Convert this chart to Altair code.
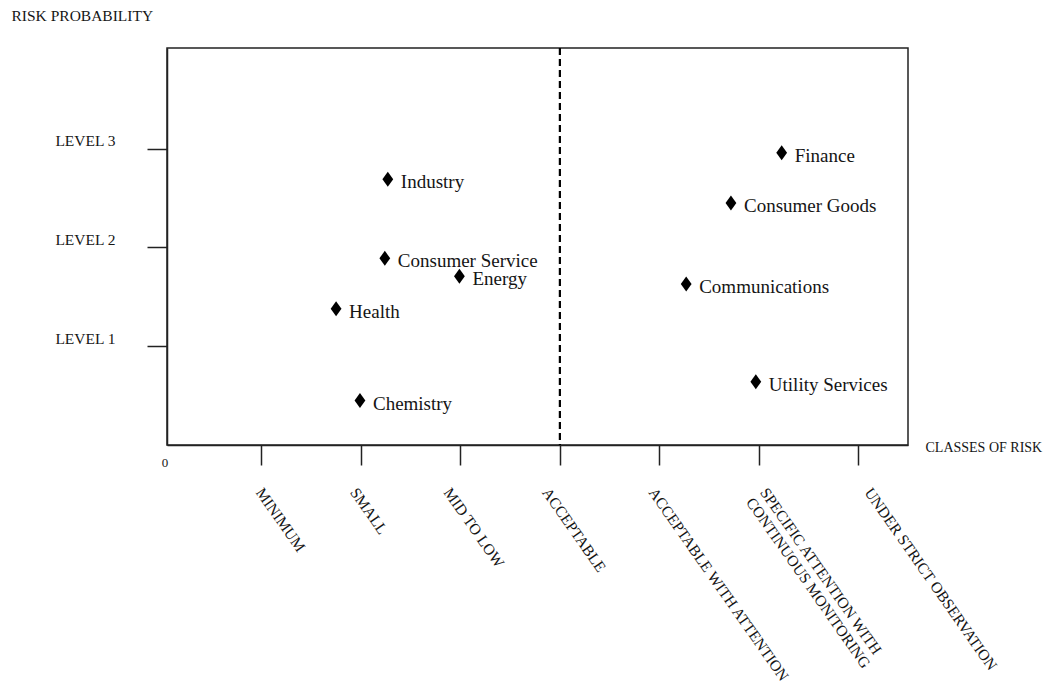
import json
import altair as alt
import pandas as pd

# ---- data ----
sectors = ["Industry", "Consumer Service", "Energy", "Health", "Chemistry",
           "Finance", "Consumer Goods", "Communications", "Utility Services"]
risk_class = [2.27, 2.24, 2.99, 1.75, 1.99, 6.23, 5.72, 5.27, 5.97]
probability = [2.69, 1.89, 1.71, 1.38, 0.45, 2.96, 2.45, 1.63, 0.64]

class_ticks = [1, 2, 3, 4, 5, 6, 7]
class_labels = ["MINIMUM", "SMALL", "MID TO LOW", "ACCEPTABLE",
                "ACCEPTABLE WITH ATTENTION",
                ["SPECIFIC ATTENTION WITH", "CONTINUOUS MONITORING"],
                "UNDER STRICT OBSERVATION"]
# hand-placed label shifts seen in the reference (pixels along the axis)
class_label_shift = [3, -2, -8, -9, -2, 10, 15]
level_ticks = [1, 2, 3]
level_labels = ["LEVEL 1", "LEVEL 2", "LEVEL 3"]
acceptable_threshold = [4]
origin_label = ["0"]

FONT = "Liberation Serif"
INK = "#222222"
TXT = "#151515"

df = pd.DataFrame({"sector": sectors, "risk_class": risk_class, "probability": probability})
rule_df = pd.DataFrame({"risk_class": acceptable_threshold})
zero_df = pd.DataFrame({"risk_class": [0], "probability": [0], "t": origin_label})

x_scale = alt.Scale(domain=[0.05, 7.5], nice=False, zero=False)
y_scale = alt.Scale(domain=[0, 4.02], nice=False, zero=False)

offset_condition = {
    "condition": [
        {"test": f"datum.value == {t}", "value": s}
        for t, s in zip(class_ticks, class_label_shift)
    ],
    "value": 0,
}

x_axis = alt.Axis(
    values=class_ticks,
    labelExpr=json.dumps(class_labels) + "[datum.value - 1]",
    labelAngle=55, labelAlign="left", labelBaseline="top",
    labelPadding=20, labelOffset=offset_condition,
    labelFont=FONT, labelFontSize=15.5,
    labelColor=TXT, labelLineHeight=17, labelOverlap=False, labelFlush=False,
    labelLimit=0,
    tickSize=20, tickColor=INK, tickWidth=1.5,
    domainColor=INK, domainWidth=1.5, grid=False,
    title="CLASSES OF RISK", titleAngle=0, titleAlign="left", titleBaseline="middle",
    titleX=758, titleY=2, titleFont=FONT, titleFontSize=14,
    titleFontWeight="normal", titleColor=TXT,
)
y_axis = alt.Axis(
    values=level_ticks,
    labelExpr=json.dumps(level_labels) + "[datum.value - 1]",
    labelAlign="right", labelBaseline="middle", labelPadding=32, labelOffset=-8,
    labelFont=FONT, labelFontSize=15.5, labelColor=TXT, labelLimit=0,
    tickSize=20, tickColor=INK, tickWidth=1.5,
    domainColor=INK, domainWidth=1.5, grid=False,
    title="RISK PROBABILITY", titleAngle=0, titleAlign="left", titleBaseline="middle",
    titleX=-156, titleY=-33, titleFont=FONT, titleFontSize=15.5,
    titleFontWeight="normal", titleColor=TXT,
)

X = alt.X("risk_class:Q", scale=x_scale, axis=x_axis)
Y = alt.Y("probability:Q", scale=y_scale, axis=y_axis)

diamond = "M0,-1L0.72,0L0,1L-0.72,0Z"

points = alt.Chart(df).mark_point(
    shape=diamond, filled=True, size=225, color="black", opacity=1
).encode(x=X, y=Y)

labels = alt.Chart(df).mark_text(
    align="left", baseline="middle", dx=13, dy=3,
    font=FONT, fontSize=19, color=TXT
).encode(x=X, y=Y, text="sector:N")

rule = alt.Chart(rule_df).mark_rule(
    strokeDash=[7, 4], strokeWidth=2.2, color="black"
).encode(x=X)

zero = alt.Chart(zero_df).mark_text(
    dx=3, dy=18, font=FONT, fontSize=13, color=TXT, clip=False
).encode(x=X, y=Y, text="t:N")

chart = alt.layer(rule, points, labels, zero).properties(
    width=741, height=397,
    autosize=alt.AutoSizeParams(type="none"),
    padding={"left": 159, "top": 40, "right": 135, "bottom": 238},
).configure_view(stroke=INK, strokeWidth=1.5)

chart.save("out.html", embed_options={"renderer": "svg", "actions": False})
